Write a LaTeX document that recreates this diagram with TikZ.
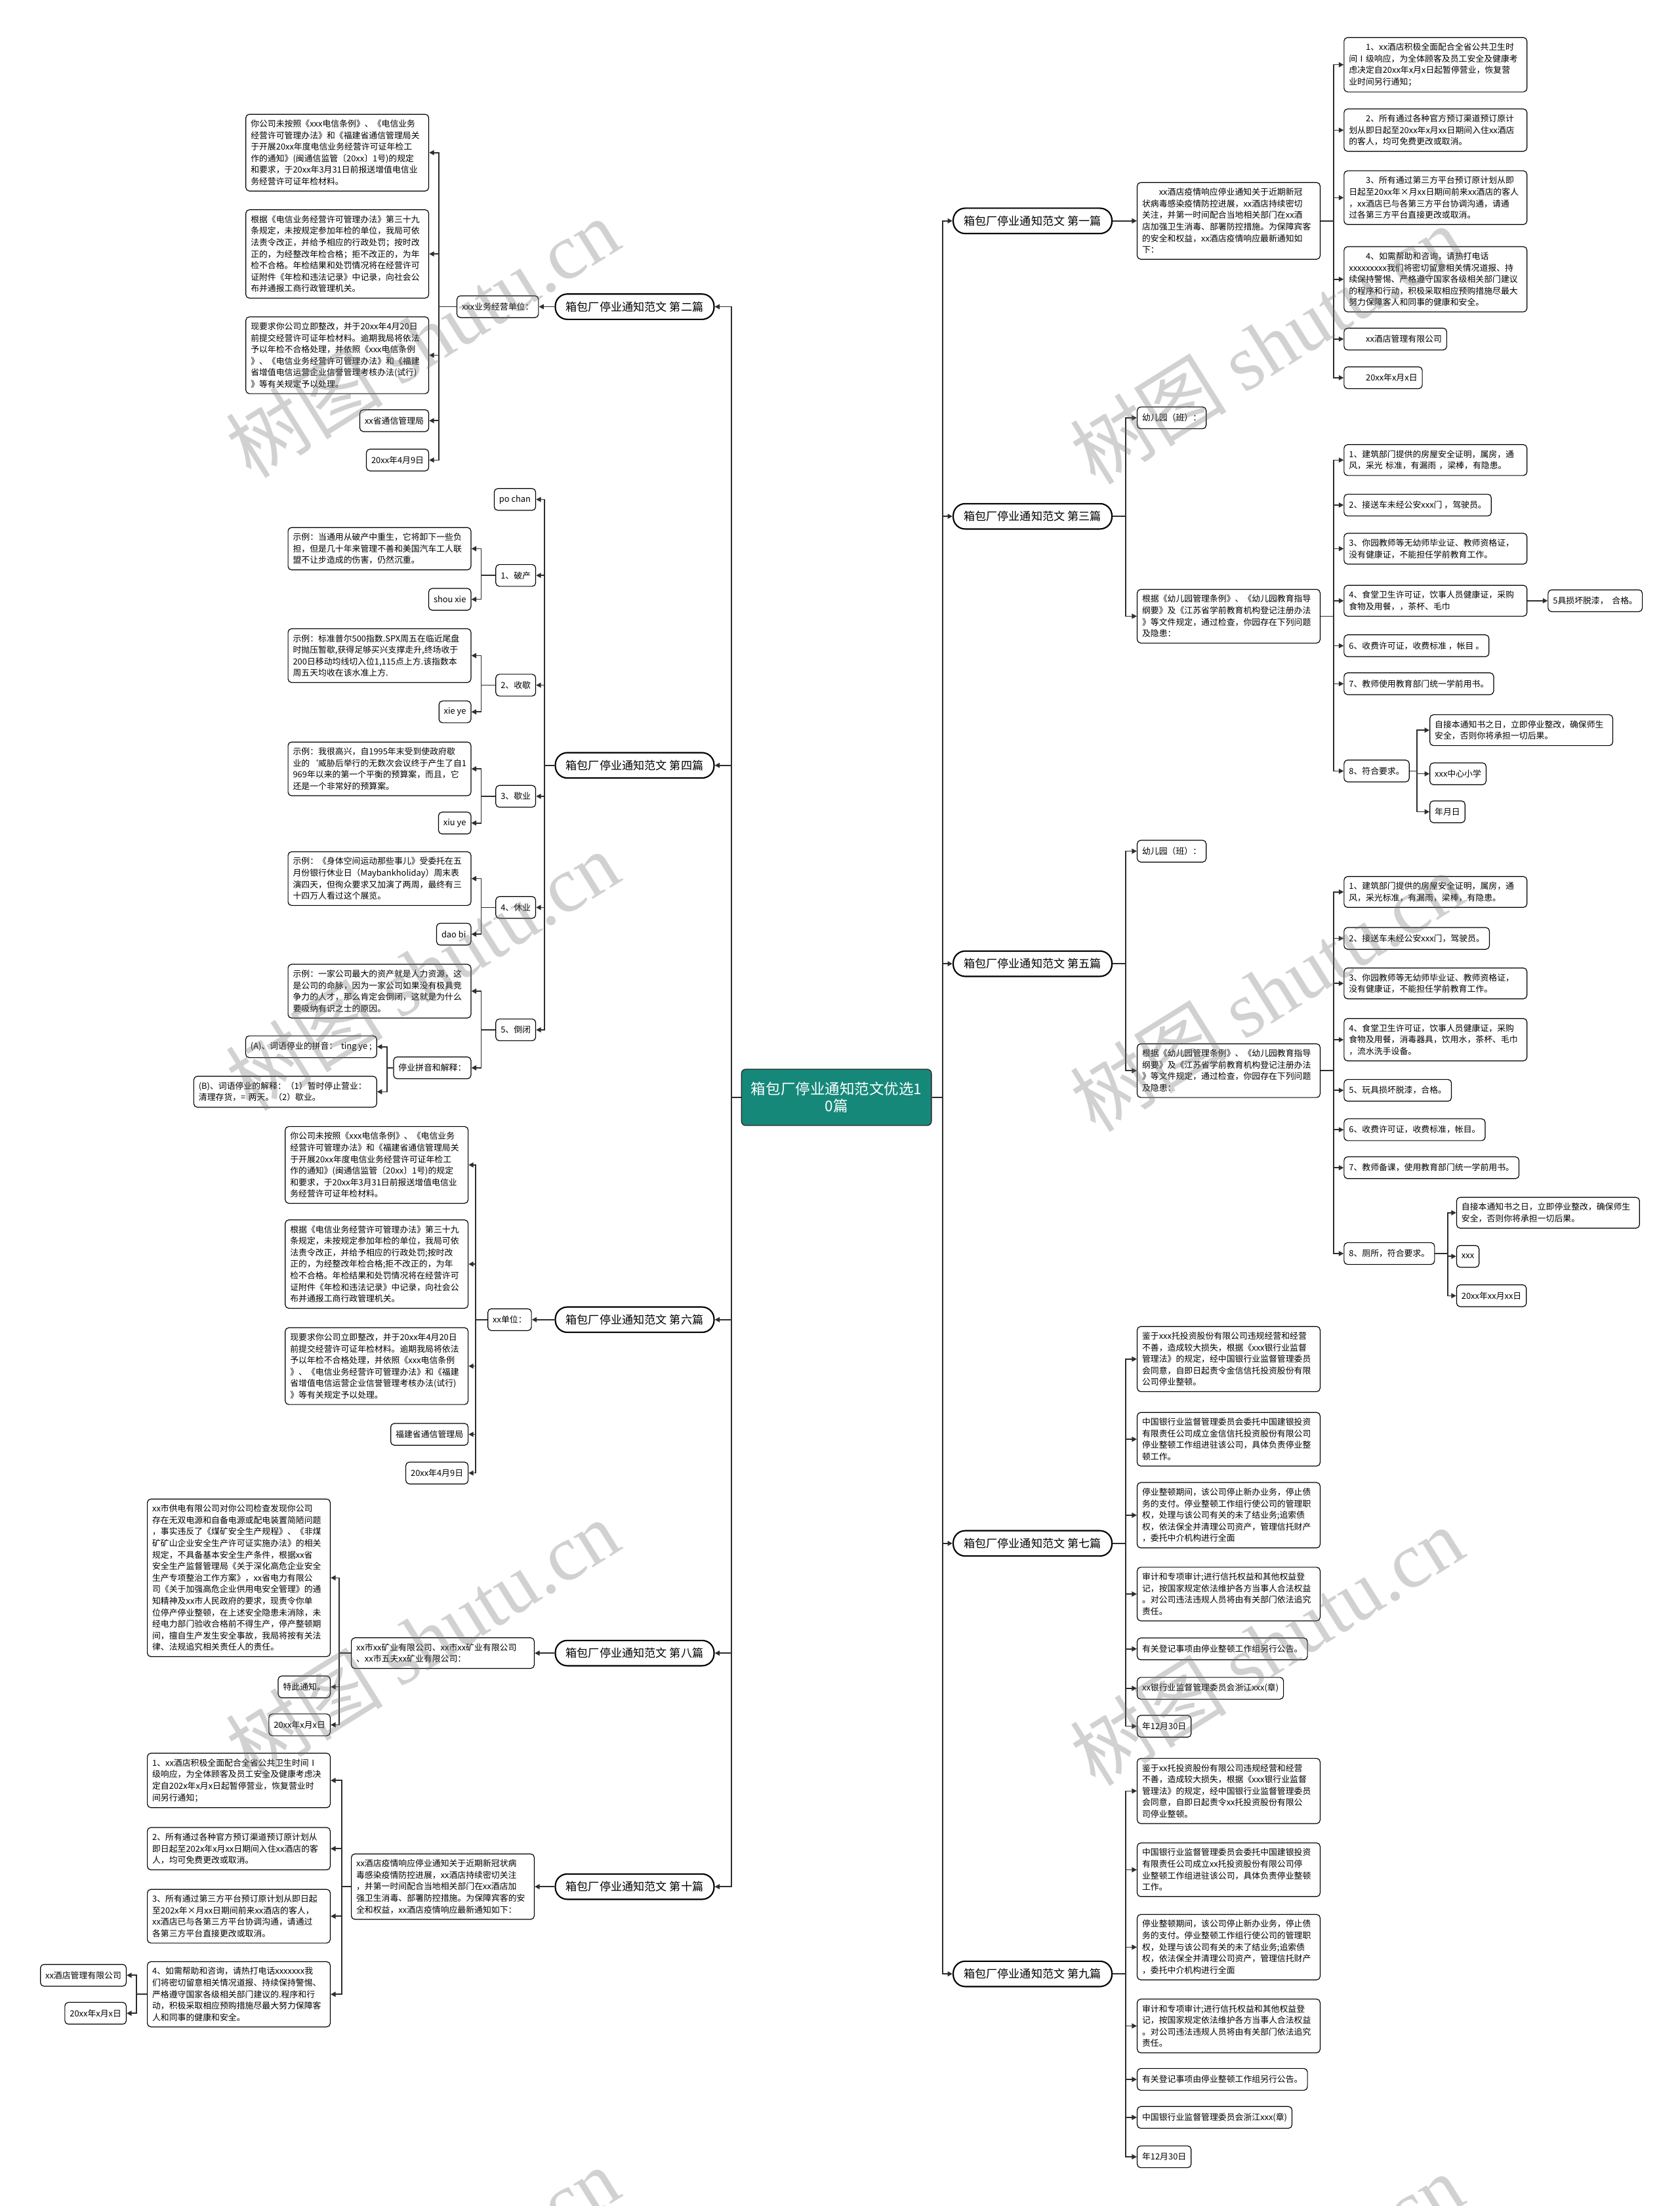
\documentclass[tikz,border=0pt]{standalone}
\usepackage{fontspec}
\setmainfont{Noto Sans CJK SC}
\newfontfamily\wmserif{Liberation Serif}
\usetikzlibrary{arrows.meta}
\definecolor{rootc}{RGB}{22,136,122}
\definecolor{lnc}{RGB}{45,45,45}
\tikzset{
  conn/.style={draw=lnc, line width=0.75pt, -{Triangle[length=3.5pt,width=3.5pt]}},
  box/.style={draw=black, line width=0.55pt, fill=white, rounded corners=2.5pt, align=left, inner xsep=3.5pt, inner ysep=4pt, minimum height=15.5pt, font=\fontsize{6}{8.2}\selectfont},
  wide/.style={box, text width=123pt},
  pill/.style={draw=black, line width=1pt, fill=white, rounded corners=8.5pt, minimum height=18pt, inner xsep=7.5pt, inner ysep=2pt, font=\fontsize{8}{10}\selectfont},
  rootbox/.style={draw=black!85, line width=0.6pt, fill=rootc, text=white, rounded corners=3pt, align=center, minimum width=135pt, minimum height=40pt, inner sep=3pt, font=\fontsize{10.5}{12}\selectfont},
  wm/.style={rotate=32, text=black!55, opacity=0.32, font=\fontsize{56}{56}\selectfont, inner sep=0pt},
  R/.style={anchor=west},
  L/.style={anchor=east},
}
\newcommand\conR[3]{\draw[conn] (#1.east) -- (#1.east -| #2,0) |- (#3.west);}
\newcommand\conL[3]{\draw[conn] (#1.west) -- (#1.west -| #2,0) |- (#3.east);}
\begin{document}
\begin{tikzpicture}[x=1pt,y=-1pt]
\useasboundingbox (0,0) rectangle (1194,1568);
\fill[white] (0,0) rectangle (1194,1568);

% root and level 1
\node[rootbox] (root) at (594.5,780) {箱包厂停业通知范文优选1\\0篇};
\node[pill,R] (p1) at (677,157) {箱包厂停业通知范文 第一篇};
\node[pill,R] (p3) at (677,367) {箱包厂停业通知范文 第三篇};
\node[pill,R] (p5) at (677,685) {箱包厂停业通知范文 第五篇};
\node[pill,R] (p7) at (677,1097) {箱包厂停业通知范文 第七篇};
\node[pill,R] (p9) at (677,1403) {箱包厂停业通知范文 第九篇};
\node[pill,L] (p2) at (508,218) {箱包厂停业通知范文 第二篇};
\node[pill,L] (p4) at (508,544) {箱包厂停业通知范文 第四篇};
\node[pill,L] (p6) at (508,938) {箱包厂停业通知范文 第六篇};
\node[pill,L] (p8) at (508,1175) {箱包厂停业通知范文 第八篇};
\node[pill,L] (p10) at (508,1341) {箱包厂停业通知范文 第十篇};
\foreach \p in {p1,p3,p5,p7,p9} {\conR{root}{670}{\p}}
\foreach \p in {p2,p4,p6,p8,p10} {\conL{root}{520}{\p}}

% ---------- 第一篇
\node[wide,R] (b1) at (808,157) {\hspace*{2em}xx酒店疫情响应停业通知关于近期新冠\\状病毒感染疫情防控进展，xx酒店持续密切\\关注，并第一时间配合当地相关部门在xx酒\\店加强卫生消毒、部署防控措施。为保障宾客\\的安全和权益，xx酒店疫情响应最新通知如\\下：};
\node[wide,R] (b1a) at (955,46) {\hspace*{2em}1、xx酒店积极全面配合全省公共卫生时\\间Ⅰ级响应，为全体顾客及员工安全及健康考\\虑决定自20xx年x月x日起暂停营业，恢复营\\业时间另行通知；};
\node[wide,R] (b1b) at (955,92.5) {\hspace*{2em}2、所有通过各种官方预订渠道预订原计\\划从即日起至20xx年x月xx日期间入住xx酒店\\的客人，均可免费更改或取消。};
\node[wide,R] (b1c) at (955,140.5) {\hspace*{2em}3、所有通过第三方平台预订原计划从即\\日起至20xx年×月xx日期间前来xx酒店的客人\\，xx酒店已与各第三方平台协调沟通，请通\\过各第三方平台直接更改或取消。};
\node[wide,R] (b1d) at (955,198.5) {\hspace*{2em}4、如需帮助和咨询，请热打电话\\xxxxxxxxx我们将密切留意相关情况道报、持\\续保持警惕、严格遵守国家各级相关部门建议\\的程序和行动，积极采取相应预购措施尽最大\\努力保障客人和同事的健康和安全。};
\node[box,R] (b1e) at (955,241) {\hspace*{2em}xx酒店管理有限公司};
\node[box,R] (b1f) at (955,268.5) {\hspace*{2em}20xx年x月x日};
\conR{p1}{800}{b1}
\foreach \c in {b1a,b1b,b1c,b1d,b1e,b1f} {\conR{b1}{948}{\c}}

% ---------- 第三篇
\node[box,R] (c3a) at (808,297) {幼儿园（班）：};
\node[wide,R] (c3b) at (808,438) {根据《幼儿园管理条例》、《幼儿园教育指导\\纲要》及《江苏省学前教育机构登记注册办法\\》等文件规定，通过检查，你园存在下列问题\\及隐患：};
\node[wide,R] (c3b1) at (955,327) {1、建筑部门提供的房屋安全证明，属房，通\\风，采光 标准，有漏雨 ，梁棒，有隐患。};
\node[box,R] (c3b2) at (955,359) {2、接送车未经公安xxx门 ，驾驶员。};
\node[wide,R] (c3b3) at (955,390) {3、你园教师等无幼师毕业证、教师资格证，\\没有健康证，不能担任学前教育工作。};
\node[wide,R] (c3b4) at (955,427) {4、食堂卫生许可证，饮事人员健康证，采购\\食物及用餐，，茶杯、毛巾};
\node[box,R] (c3b4a) at (1100,427) {5具损坏脱漆，\ \ 合格。};
\node[box,R] (c3b5) at (955,459) {6、收费许可证，收费标准 ，帐目 。};
\node[box,R] (c3b6) at (955,486) {7、教师使用教育部门统一学前用书。};
\node[box,R] (c3b7) at (955,548) {8、符合要求。};
\node[wide,R] (c3x1) at (1016,519) {自接本通知书之日，立即停业整改，确保师生\\安全，否则你将承担一切后果。};
\node[box,R] (c3x2) at (1016,550) {xxx中心小学};
\node[box,R] (c3x3) at (1016,577) {年月日};
\conR{p3}{800}{c3a}
\conR{p3}{800}{c3b}
\foreach \c in {c3b1,c3b2,c3b3,c3b4,c3b5,c3b6,c3b7} {\conR{c3b}{948}{\c}}
\conR{c3b4}{1092}{c3b4a}
\foreach \c in {c3x1,c3x2,c3x3} {\conR{c3b7}{1007}{\c}}

% ---------- 第五篇
\node[box,R] (c5a) at (808,605) {幼儿园（班）：};
\node[wide,R] (c5b) at (808,761) {根据《幼儿园管理条例》、《幼儿园教育指导\\纲要》及《江苏省学前教育机构登记注册办法\\》等文件规定，通过检查，你园存在下列问题\\及隐患：};
\node[wide,R] (c5b1) at (955,634) {1、建筑部门提供的房屋安全证明，属房，通\\风，采光标准，有漏雨，梁棒，有隐患。};
\node[box,R] (c5b2) at (955,667) {2、接送车未经公安xxx门，驾驶员。};
\node[wide,R] (c5b3) at (955,699) {3、你园教师等无幼师毕业证、教师资格证，\\没有健康证，不能担任学前教育工作。};
\node[wide,R] (c5b4) at (955,739) {4、食堂卫生许可证，饮事人员健康证，采购\\食物及用餐，消毒器具，饮用水，茶杯、毛巾\\，流水洗手设备。};
\node[box,R] (c5b5) at (955,775) {5、玩具损坏脱漆，合格。};
\node[box,R] (c5b6) at (955,803) {6、收费许可证，收费标准，帐目。};
\node[box,R] (c5b7) at (955,830) {7、教师备课，使用教育部门统一学前用书。};
\node[box,R] (c5b8) at (955,891) {8、厕所，符合要求。};
\node[wide,R] (c5y1) at (1035,862) {自接本通知书之日，立即停业整改，确保师生\\安全，否则你将承担一切后果。};
\node[box,R] (c5y2) at (1035,893) {xxx};
\node[box,R] (c5y3) at (1035,921) {20xx年xx月xx日};
\conR{p5}{800}{c5a}
\conR{p5}{800}{c5b}
\foreach \c in {c5b1,c5b2,c5b3,c5b4,c5b5,c5b6,c5b7,c5b8} {\conR{c5b}{948}{\c}}
\foreach \c in {c5y1,c5y2,c5y3} {\conR{c5b8}{1029}{\c}}

% ---------- 第七篇
\node[wide,R] (c7a) at (808,966) {鉴于xxx托投资股份有限公司违规经营和经营\\不善，造成较大损失，根据《xxx银行业监督\\管理法》的规定，经中国银行业监督管理委员\\会同意，自即日起责令金信信托投资股份有限\\公司停业整顿。};
\node[wide,R] (c7b) at (808,1023) {中国银行业监督管理委员会委托中国建银投资\\有限责任公司成立金信信托投资股份有限公司\\停业整顿工作组进驻该公司，具体负责停业整\\顿工作。};
\node[wide,R] (c7c) at (808,1077) {停业整顿期间，该公司停止新办业务，停止债\\务的支付。停业整顿工作组行使公司的管理职\\权，处理与该公司有关的未了结业务;追索债\\权，依法保全并清理公司资产，管理信托财产\\，委托中介机构进行全面};
\node[wide,R] (c7d) at (808,1133) {审计和专项审计;进行信托权益和其他权益登\\记，按国家规定依法维护各方当事人合法权益\\。对公司违法违规人员将由有关部门依法追究\\责任。};
\node[box,R] (c7e) at (808,1172) {有关登记事项由停业整顿工作组另行公告。};
\node[box,R] (c7f) at (808,1200) {xx银行业监督管理委员会浙江xxx(章)};
\node[box,R] (c7g) at (808,1227) {年12月30日};
\foreach \c in {c7a,c7b,c7c,c7d,c7e,c7f,c7g} {\conR{p7}{800}{\c}}

% ---------- 第九篇
\node[wide,R] (c9a) at (808,1273) {鉴于xx托投资股份有限公司违规经营和经营\\不善，造成较大损失，根据《xxx银行业监督\\管理法》的规定，经中国银行业监督管理委员\\会同意，自即日起责令xx托投资股份有限公\\司停业整顿。};
\node[wide,R] (c9b) at (808,1329) {中国银行业监督管理委员会委托中国建银投资\\有限责任公司成立xx托投资股份有限公司停\\业整顿工作组进驻该公司，具体负责停业整顿\\工作。};
\node[wide,R] (c9c) at (808,1384) {停业整顿期间，该公司停止新办业务，停止债\\务的支付。停业整顿工作组行使公司的管理职\\权，处理与该公司有关的未了结业务;追索债\\权，依法保全并清理公司资产，管理信托财产\\，委托中介机构进行全面};
\node[wide,R] (c9d) at (808,1440) {审计和专项审计;进行信托权益和其他权益登\\记，按国家规定依法维护各方当事人合法权益\\。对公司违法违规人员将由有关部门依法追究\\责任。};
\node[box,R] (c9e) at (808,1478) {有关登记事项由停业整顿工作组另行公告。};
\node[box,R] (c9f) at (808,1505) {中国银行业监督管理委员会浙江xxx(章)};
\node[box,R] (c9g) at (808,1533) {年12月30日};
\foreach \c in {c9a,c9b,c9c,c9d,c9e,c9f,c9g} {\conR{p9}{800}{\c}}

% ---------- 第二篇
\node[box,L] (q2) at (383,218) {xxx业务经营单位：};
\node[wide,L] (d1) at (305,108.5) {你公司未按照《xxx电信条例》、《电信业务\\经营许可管理办法》和《福建省通信管理局关\\于开展20xx年度电信业务经营许可证年检工\\作的通知》(闽通信监管〔20xx〕1号)的规定\\和要求，于20xx年3月31日前报送增值电信业\\务经营许可证年检材料。};
\node[wide,L] (d2) at (305,180.5) {根据《电信业务经营许可管理办法》第三十九\\条规定，未按规定参加年检的单位，我局可依\\法责令改正，并给予相应的行政处罚；按时改\\正的，为经整改年检合格；拒不改正的，为年\\检不合格。年检结果和处罚情况将在经营许可\\证附件《年检和违法记录》中记录，向社会公\\布并通报工商行政管理机关。};
\node[wide,L] (d3) at (305,252.5) {现要求你公司立即整改，并于20xx年4月20日\\前提交经营许可证年检材料。逾期我局将依法\\予以年检不合格处理，并依照《xxx电信条例\\》、《电信业务经营许可管理办法》和《福建\\省增值电信运营企业信誉管理考核办法(试行)\\》等有关规定予以处理。};
\node[box,L] (d4) at (305,299) {xx省通信管理局};
\node[box,L] (d5) at (305,327) {20xx年4月9日};
\conL{p2}{389}{q2}
\foreach \c in {d1,d2,d3,d4,d5} {\conL{q2}{312}{\c}}

% ---------- 第四篇
\node[box,L] (e0) at (381,355) {po chan};
\node[box,L] (e1) at (381,409) {1、破产};
\node[box,L] (e2) at (381,487) {2、收歇};
\node[box,L] (e3) at (381,566) {3、歇业};
\node[box,L] (e4) at (381,645) {4、休业};
\node[box,L] (e5) at (381,732) {5、倒闭};
\node[wide,L] (e1a) at (335,390) {示例：当通用从破产中重生，它将卸下一些负\\担，但是几十年来管理不善和美国汽车工人联\\盟不让步造成的伤害，仍然沉重。};
\node[box,L] (e1b) at (335,426) {shou xie};
\node[wide,L] (e2a) at (335,466) {示例：标准普尔500指数.SPX周五在临近尾盘\\时抛压暂歇,获得足够买兴支撑走升,终场收于\\200日移动均线切入位1,115点上方.该指数本\\周五天均收在该水准上方.};
\node[box,L] (e2b) at (335,506) {xie ye};
\node[wide,L] (e3a) at (335,546.5) {示例：我很高兴，自1995年末受到使政府歇\\业的\symbol{96}威胁后举行的无数次会议终于产生了自1\\969年以来的第一个平衡的预算案，而且，它\\还是一个非常好的预算案。};
\node[box,L] (e3b) at (335,585) {xiu ye};
\node[wide,L] (e4a) at (335,624.5) {示例：《身体空间运动那些事儿》受委托在五\\月份银行休业日（Maybankholiday）周末表\\演四天，但徇众要求又加演了两周，最终有三\\十四万人看过这个展览。};
\node[box,L] (e4b) at (335,664) {dao bi};
\node[wide,L] (e5a) at (335,704.5) {示例：一家公司最大的资产就是人力资源，这\\是公司的命脉，因为一家公司如果没有极具竞\\争力的人才，那么肯定会倒闭，这就是为什么\\要吸纳有识之士的原因。};
\node[box,L] (e5b) at (335,759) {停业拼音和解释：};
\node[box,L] (e5b1) at (268,744) {(A)、词语停业的拼音：\ \ ting ye ;};
\node[wide,L] (e5b2) at (268,776) {(B)、词语停业的解释：（1）暂时停止营业：\\清理存货，= 两天。（2）歇业。};
\foreach \c in {e0,e1,e2,e3,e4,e5} {\conL{p4}{387}{\c}}
\conL{e1}{342}{e1a} \conL{e1}{342}{e1b}
\conL{e2}{342}{e2a} \conL{e2}{342}{e2b}
\conL{e3}{342}{e3a} \conL{e3}{342}{e3b}
\conL{e4}{342}{e4a} \conL{e4}{342}{e4b}
\conL{e5}{342}{e5a} \conL{e5}{342}{e5b}
\conL{e5b}{275}{e5b1} \conL{e5b}{275}{e5b2}

% ---------- 第六篇
\node[box,L] (q6) at (378,938) {xx单位：};
\node[wide,L] (f1) at (333,828) {你公司未按照《xxx电信条例》、《电信业务\\经营许可管理办法》和《福建省通信管理局关\\于开展20xx年度电信业务经营许可证年检工\\作的通知》(闽通信监管〔20xx〕1号)的规定\\和要求，于20xx年3月31日前报送增值电信业\\务经营许可证年检材料。};
\node[wide,L] (f2) at (333,898.5) {根据《电信业务经营许可管理办法》第三十九\\条规定，未按规定参加年检的单位，我局可依\\法责令改正，并给予相应的行政处罚;按时改\\正的，为经整改年检合格;拒不改正的，为年\\检不合格。年检结果和处罚情况将在经营许可\\证附件《年检和违法记录》中记录，向社会公\\布并通报工商行政管理机关。};
\node[wide,L] (f3) at (333,971) {现要求你公司立即整改，并于20xx年4月20日\\前提交经营许可证年检材料。逾期我局将依法\\予以年检不合格处理，并依照《xxx电信条例\\》、《电信业务经营许可管理办法》和《福建\\省增值电信运营企业信誉管理考核办法(试行)\\》等有关规定予以处理。};
\node[box,L] (f4) at (333,1019.5) {福建省通信管理局};
\node[box,L] (f5) at (333,1047) {20xx年4月9日};
\conL{p6}{389}{q6}
\foreach \c in {f1,f2,f3,f4,f5} {\conL{q6}{338}{\c}}

% ---------- 第八篇
\node[wide,L] (q8) at (380,1175) {xx市xx矿业有限公司、xx市xx矿业有限公司\\、xx市五夫xx矿业有限公司：};
\node[wide,L] (g1) at (235,1121.5) {xx市供电有限公司对你公司检查发现你公司\\存在无双电源和自备电源或配电装置简陋问题\\，事实违反了《煤矿安全生产规程》、《非煤\\矿矿山企业安全生产许可证实施办法》的相关\\规定，不具备基本安全生产条件，根据xx省\\安全生产监督管理局《关于深化高危企业安全\\生产专项整治工作方案》，xx省电力有限公\\司《关于加强高危企业供用电安全管理》的通\\知精神及xx市人民政府的要求，现责令你单\\位停产停业整顿，在上述安全隐患未消除，未\\经电力部门验收合格前不得生产，停产整顿期\\间，擅自生产发生安全事故，我局将按有关法\\律、法规追究相关责任人的责任。};
\node[box,L] (g2) at (235,1199) {特此通知。};
\node[box,L] (g3) at (235,1226) {20xx年x月x日};
\conL{p8}{389}{q8}
\foreach \c in {g1,g2,g3} {\conL{q8}{241}{\c}}

% ---------- 第十篇
\node[wide,L] (q10) at (380,1341) {xx酒店疫情响应停业通知关于近期新冠状病\\毒感染疫情防控进展，xx酒店持续密切关注\\，并第一时间配合当地相关部门在xx酒店加\\强卫生消毒、部署防控措施。为保障宾客的安\\全和权益，xx酒店疫情响应最新通知如下：};
\node[wide,L] (h1) at (235,1265.5) {1、xx酒店积极全面配合全省公共卫生时间Ⅰ\\级响应，为全体顾客及员工安全及健康考虑决\\定自202x年x月x日起暂停营业，恢复营业时\\间另行通知；};
\node[wide,L] (h2) at (235,1314) {2、所有通过各种官方预订渠道预订原计划从\\即日起至202x年x月xx日期间入住xx酒店的客\\人，均可免费更改或取消。};
\node[wide,L] (h3) at (235,1362) {3、所有通过第三方平台预订原计划从即日起\\至202x年×月xx日期间前来xx酒店的客人，\\xx酒店已与各第三方平台协调沟通，请通过\\各第三方平台直接更改或取消。};
\node[wide,L] (h4) at (235,1417.5) {4、如需帮助和咨询，请热打电话xxxxxxx我\\们将密切留意相关情况道报、持续保持警惕、\\严格遵守国家各级相关部门建议的.程序和行\\动，积极采取相应预购措施尽最大努力保障客\\人和同事的健康和安全。};
\node[box,L] (h4a) at (90,1404) {xx酒店管理有限公司};
\node[box,L] (h4b) at (90,1431) {20xx年x月x日};
\conL{p10}{389}{q10}
\foreach \c in {h1,h2,h3,h4} {\conL{q10}{243}{\c}}
\conL{h4}{97}{h4a} \conL{h4}{97}{h4b}

% ---------- watermarks
\begin{scope}
\clip (0,0) rectangle (1194,1568);
\foreach \wx/\wy in {300/240,900/245,300/690,900/705,300/1165,900/1170,300/1625,900/1630}
  {\node[wm] (wm\wx-\wy) at (\wx,\wy) {树图 {\wmserif shutu.cn}};}
\end{scope}
\end{tikzpicture}
\end{document}
